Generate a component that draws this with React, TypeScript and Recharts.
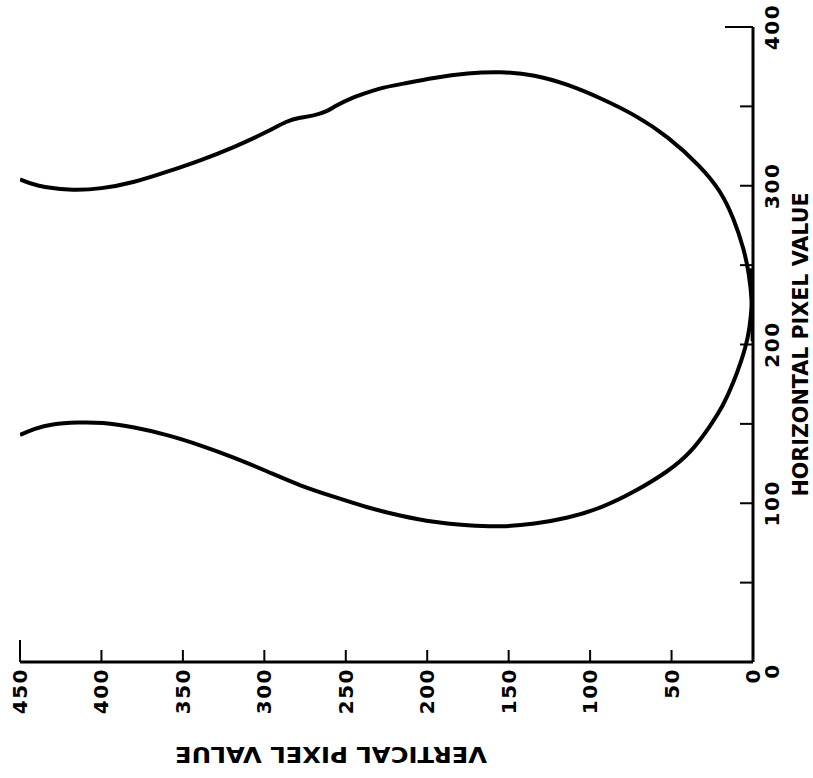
import React from 'react';
import { ScatterChart, Scatter, XAxis, YAxis } from 'recharts';

const FONT = "'DejaVu Sans', sans-serif";

// Axis ticks
const verticalTicks = [0, 50, 100, 150, 200, 250, 300, 350, 400, 450];
const horizontalTicks = [0, 50, 100, 150, 200, 250, 300, 350, 400];
const horizontalLabelled = [0, 100, 200, 300, 400];

// Axis titles
const horizontalTitle = 'HORIZONTAL PIXEL VALUE';
const verticalTitle = 'VERTICAL PIXEL VALUE';

// Upper contour: vertical pixel value / horizontal pixel value
const upperVertical = [450, 441, 420, 400, 380, 359, 339, 319, 298, 286, 278, 270, 261, 257, 245, 236, 227, 216, 196, 175, 155, 134, 114, 93, 73, 52, 32, 20, 12, 5.5, 2.5, 0.5, 0.2];
const upperHorizontal = [304, 300, 297, 298, 302, 309, 316, 324, 334, 341, 343, 344, 347, 350, 356, 359, 362, 364, 368, 371, 372, 370, 364, 355, 345, 331, 312, 297, 280, 260, 245, 228, 202];

// Lower contour
const lowerVertical = [450, 441, 431, 414, 400, 380, 359, 339, 319, 298, 278, 257, 236, 216, 196, 175, 155, 134, 114, 93, 73, 52, 38, 26, 18, 12, 7, 3, 1.2, 0.3, 0.8];
const lowerHorizontal = [143, 147, 150, 151, 151, 148, 143, 136.5, 129, 120, 111, 104, 97, 92, 88, 86, 85, 87, 90.5, 97, 107, 120, 132, 149, 162, 176, 190, 204, 218, 232, 248];

const upperData = upperVertical.map((v, i) => ({ v, h: upperHorizontal[i] }));
const lowerData = lowerVertical.map((v, i) => ({ v, h: lowerHorizontal[i] }));

const BottomTick = (props: any) => {
  const { x, y, payload } = props;
  const val = payload.value;
  const len = val === 450 ? 22 : 12;
  return (
    <g>
      {val !== 0 && (
        <line x1={x} y1={y} x2={x} y2={y - len} stroke="#000" strokeWidth={2} />
      )}
      <text
        transform={`translate(${x},${y + 6}) rotate(-90)`}
        textAnchor="end"
        dominantBaseline="central"
        fontFamily={FONT}
        fontWeight="bold"
        fontSize={20}
        letterSpacing={1.5}
        fill="#000"
      >
        {val}
      </text>
    </g>
  );
};

const RightTick = (props: any) => {
  const { x, y, payload } = props;
  const val = payload.value;
  const len = val === 400 ? 28 : 13;
  const ly = val === 0 ? y + 9 : y;
  return (
    <g>
      {val !== 0 && (
        <line x1={x} y1={y} x2={x - len} y2={y} stroke="#000" strokeWidth={2} />
      )}
      {horizontalLabelled.includes(val) && (
        <text
          transform={`translate(${x + 19},${ly}) rotate(-90)`}
          textAnchor="middle"
          dominantBaseline="central"
          fontFamily={FONT}
          fontWeight="bold"
          fontSize={20}
          letterSpacing={1.5}
          fill="#000"
        >
          {val}
        </text>
      )}
    </g>
  );
};

const RightTitle = (props: any) => {
  const vb = props.viewBox || { x: 753, y: 27, width: 60, height: 635 };
  const cx = vb.x + 47;
  const cy = vb.y + vb.height / 2;
  return (
    <text
      transform={`translate(${cx},${cy}) rotate(-90)`}
      textAnchor="middle"
      dominantBaseline="central"
      fontFamily={FONT}
      fontWeight="bold"
      fontSize={22}
      textLength={304}
      lengthAdjust="spacingAndGlyphs"
      fill="#000"
    >
      {horizontalTitle}
    </text>
  );
};

const BottomTitle = (props: any) => {
  const vb = props.viewBox || { x: 20, y: 662, width: 733, height: 116 };
  const cx = vb.x + 311;
  const cy = vb.y + 92;
  return (
    <text
      transform={`translate(${cx},${cy}) rotate(180)`}
      textAnchor="middle"
      dominantBaseline="central"
      fontFamily={FONT}
      fontWeight="bold"
      fontSize={22}
      textLength={312}
      lengthAdjust="spacingAndGlyphs"
      fill="#000"
    >
      {verticalTitle}
    </text>
  );
};

const NoShape = () => <g />;

export default function App() {
  return (
    <div style={{ position: 'absolute', left: 0, top: 0, width: 813, height: 778, background: '#fff' }}>
      <ScatterChart
        width={813}
        height={778}
        margin={{ top: 27, right: 0, bottom: 0, left: 20 }}
      >
        <XAxis
          type="number"
          dataKey="v"
          domain={[0, 450]}
          reversed
          ticks={verticalTicks}
          interval={0}
          height={116}
          tickLine={false}
          tickSize={0}
          tickMargin={0}
          axisLine={{ stroke: '#000', strokeWidth: 3 }}
          tick={<BottomTick />}
          label={{ content: <BottomTitle /> }}
          allowDataOverflow
        />
        <YAxis
          type="number"
          dataKey="h"
          orientation="right"
          domain={[0, 400]}
          ticks={horizontalTicks}
          interval={0}
          width={60}
          tickLine={false}
          tickSize={0}
          tickMargin={0}
          axisLine={{ stroke: '#000', strokeWidth: 3 }}
          tick={<RightTick />}
          label={{ content: <RightTitle /> }}
          allowDataOverflow
        />
        <Scatter
          data={upperData}
          line={{ stroke: '#000', strokeWidth: 4 }}
          lineType="joint"
          lineJointType="basis"
          shape={<NoShape />}
          isAnimationActive={false}
        />
        <Scatter
          data={lowerData}
          line={{ stroke: '#000', strokeWidth: 4 }}
          lineType="joint"
          lineJointType="basis"
          shape={<NoShape />}
          isAnimationActive={false}
        />
      </ScatterChart>
    </div>
  );
}
